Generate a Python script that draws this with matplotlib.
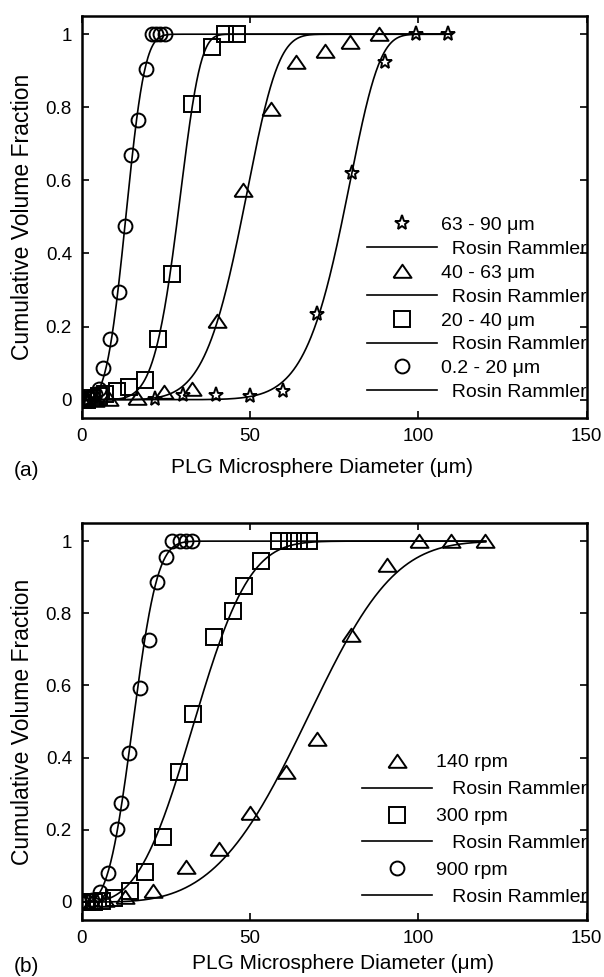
import numpy as np
import matplotlib
matplotlib.use("Agg")
import matplotlib.pyplot as plt
from matplotlib.lines import Line2D

plt.rcParams['font.family'] = ['Liberation Sans', 'DejaVu Sans']
plt.rcParams['font.size'] = 13.5

MU = "\u03bc"

# ---- panel (a): size fractions ----
a_circ_x = [0.2, 1, 2, 3, 4, 5, 6.4, 8.4, 11.2, 12.9, 14.7, 16.6, 19.1, 20.8, 22.0, 23.3, 24.6]
a_circ_y = [0, 0, 0.005, 0.01, 0.015, 0.03, 0.087, 0.165, 0.295, 0.475, 0.67, 0.765, 0.905, 1, 1, 1, 1]
a_sq_x = [0.5, 1.5, 3, 5, 7, 10.4, 13.9, 18.8, 22.8, 26.7, 32.7, 38.6, 42.6, 46]
a_sq_y = [0, 0, 0.005, 0.01, 0.015, 0.025, 0.035, 0.054, 0.165, 0.345, 0.81, 0.965, 1, 1]
a_tri_x = [1, 4, 8, 16.3, 24.3, 32.7, 40.1, 47.8, 56.1, 63.6, 72.3, 79.8, 88.2]
a_tri_y = [0, 0, 0.002, 0.005, 0.02, 0.03, 0.215, 0.575, 0.795, 0.925, 0.955, 0.98, 1.0]
a_star_x = [2, 21.8, 30, 40, 50, 59.7, 69.8, 80.2, 90, 99.4, 108.8]
a_star_y = [0, 0.003, 0.012, 0.013, 0.01, 0.025, 0.235, 0.62, 0.925, 1, 1]
a_labels = ["63 - 90 " + MU + "m", "40 - 63 " + MU + "m", "20 - 40 " + MU + "m", "0.2 - 20 " + MU + "m"]
# Rosin Rammler fit parameters (spread n, size xm)
a_fit_n = [10.0, 6.3, 6.0, 3.4]
a_fit_xm = [80.5, 50.5, 30.3, 14.6]

# ---- panel (b): stirring speed ----
b_circ_x = [0, 1.5, 3, 5.4, 7.8, 10.6, 11.8, 14.0, 17.3, 19.9, 22.5, 24.9, 26.8, 29.2, 31, 32.8]
b_circ_y = [0, 0, 0.005, 0.027, 0.08, 0.202, 0.274, 0.414, 0.593, 0.727, 0.888, 0.955, 1, 1, 1, 1]
b_sq_x = [0, 1.5, 3.5, 6, 9.5, 14.3, 18.9, 24, 28.8, 33.2, 39.2, 44.9, 48.3, 53.3, 58.5, 61.5, 64.5, 67.6]
b_sq_y = [0, 0, 0, 0.003, 0.01, 0.03, 0.083, 0.181, 0.359, 0.522, 0.733, 0.807, 0.876, 0.945, 1, 1, 1, 1]
b_tri_x = [0.5, 3, 7, 12.9, 21.3, 31, 40.9, 50.1, 60.6, 69.8, 80.1, 90.7, 100.1, 109.8, 119.7]
b_tri_y = [0, 0, 0.005, 0.013, 0.031, 0.096, 0.147, 0.248, 0.359, 0.451, 0.741, 0.934, 1, 1, 1]
b_labels = ["140 rpm", "300 rpm", "900 rpm"]
b_fit_n = [3.7, 3.0, 3.1]
b_fit_xm = [73.5, 37.8, 17.2]

# wide, flat triangle like the original
tri = [(-1, -0.7), (1, -0.7), (0, 0.75), (-1, -0.7)]
styles = {
    'star': dict(marker='*', ms=11),
    'tri': dict(marker=tri, ms=13),
    'sq': dict(marker='s', ms=11),
    'circ': dict(marker='o', ms=10),
}


def rosin_rammler(x, n, xm):
    return 1 - np.exp(-(x / xm) ** n)


def style_axes(ax, xlab_x, xlab_y):
    ax.set_xlim(0, 150)
    ax.set_ylim(-0.05, 1.05)
    ax.set_xticks([0, 50, 100, 150])
    ax.set_yticks([0, 0.2, 0.4, 0.6, 0.8, 1])
    ax.set_yticklabels(['0', '0.2', '0.4', '0.6', '0.8', '1'])
    ax.tick_params(direction='in', top=True, right=True, length=5, width=1.2,
                   pad=7, labelsize=13.5)
    for sp in ax.spines.values():
        sp.set_linewidth(1.8)
    ax.set_xlabel("PLG Microsphere Diameter (" + MU + "m)", fontsize=15)
    ax.xaxis.set_label_coords(xlab_x, xlab_y)
    ax.set_ylabel("Cumulative Volume Fraction", fontsize=16.5)
    ax.yaxis.set_label_coords(-0.094, 0.5)


def draw_panel(ax, series, kinds, labels, fit_n, fit_xm, xmax, spacing, anchor_y, pad):
    xs = np.linspace(0, xmax, 600)
    handles, names = [], []
    for (x, y), kind, lab, n, xm in zip(series, kinds, labels, fit_n, fit_xm):
        ax.plot(xs, rosin_rammler(xs, n, xm), color='black', lw=1.2, zorder=2)
        ax.plot(x, y, ls='none', mfc='none', mec='black', mew=1.4, zorder=3, **styles[kind])
        handles.append(Line2D([], [], ls='none', mfc='none', mec='black', mew=1.4, **styles[kind]))
        names.append(lab)
        handles.append(Line2D([], [], color='black', lw=1.2))
        names.append(pad + "Rosin Rammler")
    ax.legend(handles, names, frameon=False, loc='lower right', fontsize=14,
              bbox_to_anchor=(1.0, anchor_y), borderaxespad=0, borderpad=0,
              handlelength=3.6, handletextpad=0.2, labelspacing=spacing)


fig = plt.figure(figsize=(6.04, 9.77), dpi=100)
ax_a = fig.add_axes([0.1353, 0.5722, 0.836, 0.4115])
ax_b = fig.add_axes([0.1353, 0.0583, 0.836, 0.4063])

draw_panel(ax_a,
           [(a_star_x, a_star_y), (a_tri_x, a_tri_y), (a_sq_x, a_sq_y), (a_circ_x, a_circ_y)],
           ['star', 'tri', 'sq', 'circ'], a_labels, a_fit_n, a_fit_xm, 110, 0.32, 0.042, "  ")
draw_panel(ax_b,
           [(b_tri_x, b_tri_y), (b_sq_x, b_sq_y), (b_circ_x, b_circ_y)],
           ['tri', 'sq', 'circ'], b_labels, b_fit_n, b_fit_xm, 120, 0.48, 0.035, "   ")
style_axes(ax_a, 0.475, -0.1)
style_axes(ax_b, 0.517, -0.085)

fig.text(0.022, 1 - 470 / 977, "(a)", va='center', fontsize=15)
fig.text(0.022, 1 - 966 / 977, "(b)", va='center', fontsize=15)

fig.savefig("out.png", dpi=100)
